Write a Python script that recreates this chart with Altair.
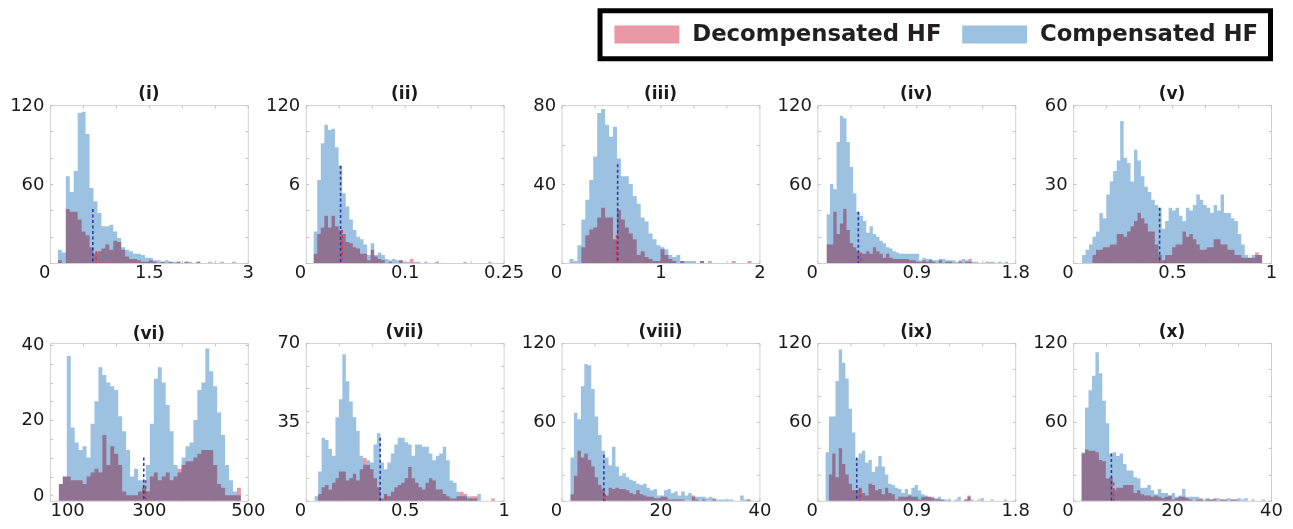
import altair as alt
import pandas as pd

SERIES = ["Decompensated HF", "Compensated HF"]
SERIES_COLORS = ["#ea97a6", "#9dc2e1"]
TITLES = ["(i)", "(ii)", "(iii)", "(iv)", "(v)", "(vi)", "(vii)", "(viii)", "(ix)", "(x)"]

X_DOMAINS = [[0, 3], [0, 0.25], [0, 2], [0, 1.8], [0, 1],
             [100, 500], [0, 1], [0, 40], [0, 1.8], [0, 40]]
X_TICKS = [[0, 1.5, 3], [0, 0.125, 0.25], [0, 1, 2], [0, 0.9, 1.8], [0, 0.5, 1],
           [100, 300, 500], [0, 0.5, 1], [0, 20, 40], [0, 0.9, 1.8], [0, 20, 40]]
X_TICK_LABELS = [["0", "1.5", "3"], ["0", "0.1", "0.25"], ["0", "1", "2"], ["0", "0.9", "1.8"],
                 ["0", "0.5", "1"], ["100", "300", "500"], ["0", "0.5", "1"], ["0", "20", "40"],
                 ["0", "0.9", "1.8"], ["0", "20", "40"]]
X_MINOR_STEPS = 6
Y_DOMAINS = [[0, 120], [0, 120], [0, 80], [0, 120], [0, 60],
             [-1.5, 40.5], [0, 70], [0, 120], [0, 120], [0, 120]]
Y_TICKS = [[60, 120], [60, 120], [40, 80], [60, 120], [30, 60],
           [0, 20, 40], [35, 70], [60, 120], [60, 120], [60, 120]]
Y_TICK_LABELS = [["60", "120"], ["6", "120"], ["40", "80"], ["60", "120"], ["30", "60"],
                 ["0", "20", "40"], ["35", "70"], ["60", "120"], ["60", "120"], ["60", "120"]]
Y_MINOR_STEP = [20, 20, 20, 20, 10, 5, 10, 20, 20, 20]

# histogram bins: first bin start and bin width per panel
BIN_START = [0.12, 0.010, 0.08, 0.085, 0.045, 118, 0.045, 1.8, 0.075, 1.7]
BIN_WIDTH = [0.06, 0.0045, 0.04, 0.03, 0.0175, 8, 0.0175, 0.7, 0.03, 0.7]

COMP_1 = [10, 8, 66, 54, 70, 114, 115, 98, 57, 47, 38, 28, 28, 29, 24, 19, 12, 10, 9, 7, 7, 6, 4, 4, 2,
          2, 1, 2, 1, 1, 1, 0, 1, 1, 0, 1, 0, 0, 1, 0, 0, 1, 0, 0, 1, 0]
DECOMP_1 = [2, 0, 41, 39, 39, 33, 24, 21, 12, 7, 9, 11, 14, 10, 17, 16, 10, 5, 3, 3, 2, 1, 1, 2, 1,
            0, 1, 0, 1, 0, 1, 0, 1, 0, 0, 1, 0, 0, 0, 0, 0, 0, 0, 0, 0, 0]
COMP_2 = [24, 63, 91, 105, 101, 102, 88, 74, 53, 43, 33, 25, 20, 18, 14, 6, 15, 6, 8, 6, 3, 2, 3, 2, 2,
          1, 1, 0, 1, 1, 0, 1, 0, 0, 0, 0, 0, 0, 0, 0, 0, 0, 1, 0, 0, 0, 0, 0, 0, 1, 0]
DECOMP_2 = [7, 22, 27, 36, 27, 36, 28, 25, 22, 16, 15, 12, 11, 7, 7, 2, 10, 5, 3, 2, 0, 1, 0, 0, 2,
            0, 0, 3, 0, 0, 0, 0, 0, 0, 1, 0, 0, 0, 0, 0, 0, 0, 0, 0, 0, 0, 0, 0, 0, 0, 0]
COMP_3 = [2, 1, 9, 22, 32, 42, 54, 76, 78, 70, 64, 69, 53, 44, 44, 40, 34, 30, 23, 21, 15, 12, 9, 8, 7,
          4, 3, 4, 1, 1, 1, 1, 0, 1, 0, 1, 0, 0, 0, 0, 0, 0, 0, 0, 0, 0, 0, 0]
DECOMP_3 = [0, 0, 0, 8, 14, 17, 18, 23, 28, 23, 23, 12, 27, 22, 18, 15, 12, 4, 6, 3, 2, 1, 1, 7, 4,
            2, 1, 0, 1, 0, 0, 0, 0, 1, 0, 0, 0, 0, 0, 0, 0, 1, 0, 0, 0, 1, 0, 0]
COMP_4 = [37, 60, 56, 92, 112, 110, 92, 73, 53, 39, 36, 32, 23, 28, 22, 20, 17, 15, 12, 11, 9, 8, 7, 7, 7,
          7, 7, 7, 2, 4, 3, 3, 2, 2, 3, 3, 2, 2, 2, 1, 1, 3, 2, 1, 1, 1, 0, 0, 1, 1, 1, 0, 1, 0, 1, 0, 0]
DECOMP_4 = [14, 14, 39, 22, 30, 41, 25, 15, 12, 9, 7, 7, 9, 7, 12, 9, 7, 4, 7, 4, 3, 3, 3, 3, 3,
            2, 2, 1, 1, 2, 1, 2, 1, 0, 2, 0, 1, 1, 0, 0, 2, 0, 1, 3, 0, 0, 0, 0, 0, 0, 0, 0, 0, 0, 0, 0, 0]
COMP_5 = [3, 5, 7, 10, 12, 19, 17, 26, 31, 35, 39, 54, 40, 38, 31, 43, 39, 33, 29, 27, 24, 22, 21, 13, 16,
          21, 20, 21, 18, 16, 21, 20, 22, 26, 24, 22, 21, 19, 22, 20, 26, 19, 19, 17, 16, 11, 7, 3, 2, 3, 3, 3]
DECOMP_5 = [0, 0, 0, 3, 5, 5, 6, 6, 7, 7, 11, 11, 10, 12, 14, 16, 19, 17, 15, 12, 12, 7, 3, 1, 3,
            3, 6, 7, 7, 12, 10, 11, 9, 7, 5, 5, 6, 6, 9, 9, 7, 7, 5, 5, 3, 3, 2, 2, 2, 2, 4, 3]
COMP_6 = [3, 5, 37, 18, 14, 12, 13, 10, 19, 25, 34, 32, 30, 29, 28, 21, 17, 12, 5, 7, 4, 4, 8, 19, 31,
          34, 30, 24, 17, 8, 6, 10, 13, 14, 20, 28, 30, 39, 33, 29, 22, 16, 8, 4, 1, 0]
DECOMP_6 = [3, 5, 5, 4, 4, 4, 3, 5, 6, 7, 6, 16, 8, 13, 11, 8, 1, 0, 0, 0, 1, 2, 1, 5, 6,
            4, 5, 6, 4, 5, 7, 8, 9, 9, 10, 11, 12, 12, 12, 8, 3, 2, 0, 0, 0, 2]
COMP_7 = [2, 13, 28, 27, 23, 20, 37, 45, 65, 53, 44, 37, 31, 20, 16, 18, 17, 25, 30, 17, 14, 17, 21, 25, 28,
          28, 26, 25, 20, 25, 25, 24, 24, 21, 18, 20, 21, 24, 18, 9, 8, 4, 2, 2, 2, 1, 1, 3, 0, 0, 0, 0]
DECOMP_7 = [0, 3, 6, 7, 5, 8, 10, 13, 13, 9, 10, 12, 9, 14, 19, 16, 14, 10, 6, 1, 3, 2, 4, 6, 7,
            8, 10, 15, 10, 8, 6, 5, 8, 10, 9, 5, 5, 3, 2, 1, 1, 2, 4, 3, 1, 2, 2, 0, 0, 0, 0, 1]
COMP_8 = [33, 67, 62, 87, 104, 103, 85, 64, 50, 38, 33, 27, 41, 26, 19, 21, 18, 16, 15, 13, 12, 13, 10, 8, 9,
          4, 4, 8, 9, 6, 7, 4, 7, 4, 6, 3, 3, 3, 3, 2, 3, 1, 1, 1, 1, 1, 1, 0, 0, 4, 1, 1]
DECOMP_8 = [5, 19, 38, 33, 36, 31, 26, 18, 12, 9, 4, 10, 9, 10, 9, 9, 8, 6, 5, 8, 5, 4, 3, 3, 2,
            2, 3, 3, 1, 1, 1, 1, 1, 0, 0, 4, 1, 0, 1, 0, 0, 2, 0, 0, 0, 0, 0, 0, 0, 0, 0, 1]
COMP_9 = [37, 64, 64, 91, 115, 105, 93, 70, 52, 32, 36, 38, 29, 31, 22, 26, 34, 26, 20, 13, 12, 10, 9, 6, 9,
          5, 10, 12, 8, 5, 4, 3, 2, 2, 3, 1, 1, 1, 0, 1, 3, 0, 1, 3, 1, 0, 1, 2, 0, 0, 1, 0, 0, 0, 1, 0]
DECOMP_9 = [0, 20, 36, 18, 40, 28, 20, 13, 8, 8, 10, 6, 4, 13, 12, 8, 9, 5, 10, 6, 5, 1, 3, 3, 3,
            4, 3, 3, 1, 3, 3, 3, 3, 1, 1, 1, 0, 0, 0, 0, 0, 0, 1, 4, 0, 0, 0, 0, 0, 0, 0, 0, 0, 0, 0, 0]
COMP_10 = [37, 71, 84, 95, 113, 97, 76, 59, 36, 37, 34, 36, 28, 23, 23, 18, 17, 10, 10, 12, 8, 5, 9, 6, 6,
           4, 6, 3, 4, 9, 3, 3, 3, 3, 1, 1, 2, 1, 1, 2, 1, 1, 2, 1, 1, 2, 1, 2, 0, 1, 0, 0, 1]
DECOMP_10 = [36, 39, 38, 38, 37, 31, 30, 17, 18, 8, 10, 10, 12, 12, 12, 6, 8, 5, 4, 4, 3, 4, 3, 2, 3,
             4, 1, 2, 3, 3, 2, 1, 0, 1, 2, 0, 1, 1, 2, 0, 1, 1, 0, 1, 1, 0, 0, 0, 0, 0, 0, 0, 0]

COMP = [COMP_1, COMP_2, COMP_3, COMP_4, COMP_5, COMP_6, COMP_7, COMP_8, COMP_9, COMP_10]
DECOMP = [DECOMP_1, DECOMP_2, DECOMP_3, DECOMP_4, DECOMP_5, DECOMP_6, DECOMP_7, DECOMP_8, DECOMP_9, DECOMP_10]

# median markers (dashed lines): position and height
COMP_MEDIAN = [0.65, 0.044, 0.567, 0.373, 0.437, 289.6, 0.376, 8.56, 0.358, 7.73]
COMP_MEDIAN_H = [41, 74, 50, 39, 21, 10, 28, 35, 33, 36]
DECOMP_MEDIAN = [0.70, 0.046, 0.556, 0.398, 0.466, 293.6, 0.405, 8.8, 0.386, 8.2]
DECOMP_MEDIAN_H = [9, 25, 14, 8, 1, 4, 2, 5, 9, 14]

W, H = 198, 158
TICK = 3
FONT = "DejaVu Sans"

LEGEND = alt.Legend(
    title=None, orient="none", legendX=550.5, legendY=-94.5, direction="horizontal",
    fillColor="white", padding=12,
    labelFont=FONT, labelFontSize=22.8, labelFontWeight="bold", labelColor="#231f20",
    labelLimit=400, symbolType="M-3.611,-1L3.611,-1L3.611,1L-3.611,1Z", symbolSize=324,
    symbolOffset=23.5, labelOffset=34, columnPadding=18, symbolStrokeWidth=0, symbolOpacity=1,
)


def label_expr(values, labels):
    expr = "''"
    for v, lab in reversed(list(zip(values, labels))):
        expr = f"abs(datum.value - ({v})) < 1e-9 ? '{lab}' : {expr}"
    return expr


def minor_values(lo, hi, labelled, step=None, n=None):
    vals = []
    if n is not None:
        vals = [lo + (hi - lo) * i / n for i in range(n + 1)]
    else:
        v = 0
        while v <= hi + 1e-9:
            if v >= lo - 1e-9:
                vals.append(v)
            v += step
    for t in labelled:
        if all(abs(t - v) > 1e-9 for v in vals):
            vals.append(t)
    return sorted(vals)


def hist_frame(k, counts, series):
    xs = [BIN_START[k] + i * BIN_WIDTH[k] for i in range(len(counts))]
    xs.append(BIN_START[k] + len(counts) * BIN_WIDTH[k])
    ys = list(counts) + [0]
    return pd.DataFrame({"x": xs, "count": ys, "series": series})


def panel(k):
    xscale = alt.Scale(domain=X_DOMAINS[k], nice=False, zero=False)
    yscale = alt.Scale(domain=Y_DOMAINS[k], nice=False, zero=False)
    first = X_TICKS[k][0]
    align_expr = ("left" if k == 5 else "right")
    xvals = minor_values(X_DOMAINS[k][0], X_DOMAINS[k][1], X_TICKS[k], n=X_MINOR_STEPS)
    yvals = minor_values(Y_DOMAINS[k][0], Y_DOMAINS[k][1], Y_TICKS[k], step=Y_MINOR_STEP[k])
    xaxis = alt.Axis(values=xvals, labelExpr=label_expr(X_TICKS[k], X_TICK_LABELS[k]),
                     labelAlign={"condition": {"test": f"datum.value == {first}", "value": align_expr},
                                 "value": "center"},
                     title=None)
    yaxis = alt.Axis(values=yvals, labelExpr=label_expr(Y_TICKS[k], Y_TICK_LABELS[k]), title=None)
    color = alt.Color("series:N", scale=alt.Scale(domain=SERIES, range=SERIES_COLORS), legend=LEGEND)
    ymin = Y_DOMAINS[k][0]

    comp = alt.Chart(hist_frame(k, COMP[k], "Compensated HF")).mark_area(
        interpolate="step-after", opacity=1).encode(
        x=alt.X("x:Q", scale=xscale, axis=xaxis),
        y=alt.Y("count:Q", scale=yscale, axis=yaxis),
        y2=alt.datum(ymin),
        color=color,
    )
    decomp = alt.Chart(hist_frame(k, DECOMP[k], "Decompensated HF")).mark_area(
        interpolate="step-after", opacity=1, blend="multiply").encode(
        x=alt.X("x:Q", scale=xscale, axis=xaxis),
        y=alt.Y("count:Q", scale=yscale, axis=yaxis),
        y2=alt.datum(ymin),
        color=color,
    )
    med_c = pd.DataFrame({"m": [COMP_MEDIAN[k]], "h": [COMP_MEDIAN_H[k]]})
    med_d = pd.DataFrame({"m": [DECOMP_MEDIAN[k]], "h": [DECOMP_MEDIAN_H[k]]})
    rule_c = alt.Chart(med_c).mark_rule(color="#2b3aa8", strokeDash=[3, 2.5], strokeWidth=1.6).encode(
        x=alt.X("m:Q", scale=xscale, axis=xaxis),
        y=alt.Y("h:Q", scale=yscale, axis=yaxis),
        y2=alt.datum(ymin),
    )
    rule_d = alt.Chart(med_d).mark_rule(color="#e5323c", strokeDash=[3, 2.5], strokeWidth=1.6).encode(
        x=alt.X("m:Q", scale=xscale, axis=xaxis),
        y=alt.Y("h:Q", scale=yscale, axis=yaxis),
        y2=alt.datum(ymin),
    )
    return alt.layer(comp, decomp, rule_c, rule_d).properties(
        width=W, height=H, title=alt.Title(TITLES[k]))


panels = [panel(k) for k in range(10)]

chart = alt.concat(
    *panels, columns=5, spacing={"row": 80, "column": 58}, bounds="flush"
).properties(
    padding={"left": 1, "top": 0, "right": 2, "bottom": 0},
    background="white",
).configure_view(
    stroke="#d2d2d2", strokeWidth=1
).configure_legend(
    strokeColor="black", strokeWidth=5, cornerRadius=0
).configure_axis(
    labelFont=FONT, labelFontSize=18, labelColor="#1a1a1a", labelOverlap=False,
    domain=False, ticks=False, tickSize=0, grid=True, gridColor="#c4c4c4", gridWidth=1,
).configure_axisX(
    labelPadding=1, gridDash=[TICK, H - 2 * TICK, TICK, 0]
).configure_axisY(
    labelPadding=6, gridDash=[TICK, W - 2 * TICK, TICK, 0]
).configure_title(
    font=FONT, fontSize=17, fontWeight="bold", color="#1a1a1a", offset=2, dy=9, anchor="middle"
)

chart.save("out.html", embed_options={"renderer": "svg", "actions": False})
